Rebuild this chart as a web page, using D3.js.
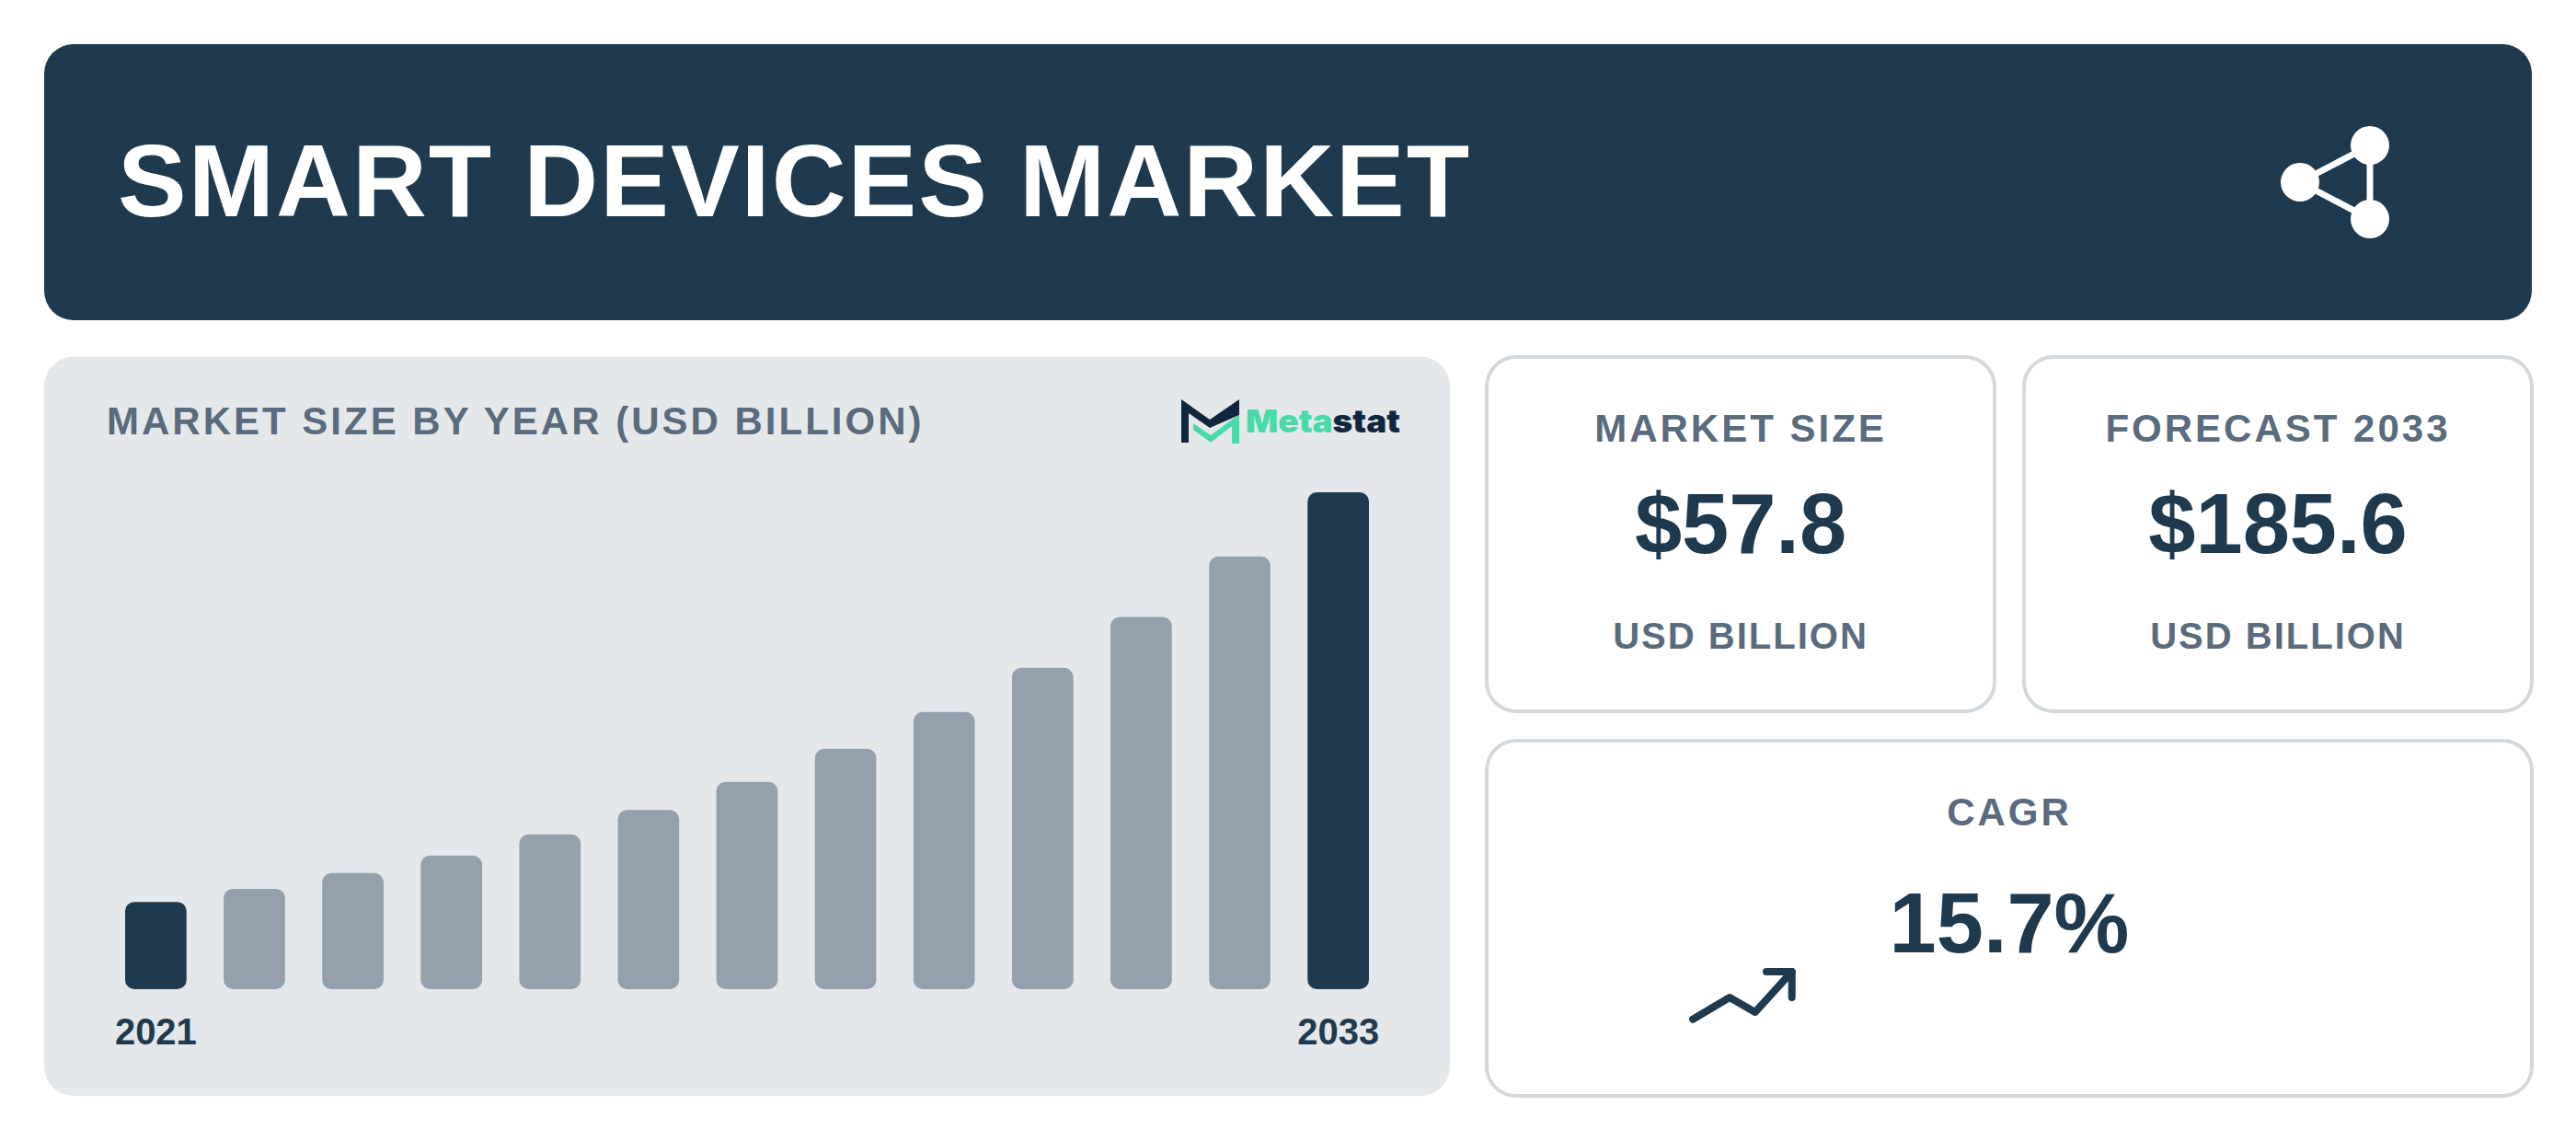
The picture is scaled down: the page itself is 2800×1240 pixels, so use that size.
<!DOCTYPE html>
<html><head><meta charset="utf-8">
<style>html,body{margin:0;padding:0;background:#fff}svg{display:block}text{font-family:"Liberation Sans",Arial,sans-serif}</style>
<script src="https://cdn.jsdelivr.net/npm/d3@7/dist/d3.min.js"></script>
</head><body><svg id="c" width="2800" height="1240"></svg>
<script>
const years=[2021,2022,2023,2024,2025,2026,2027,2028,2029,2030,2031,2032,2033];
const marketSize=[32.6,37.5,43.4,49.9,57.8,66.9,77.4,89.8,103.5,120.0,139.0,161.6,185.6];
const tickYears=[2021,2033];
const highlightYears=[2021,2033];
const titleText="SMART DEVICES MARKET";
const chartTitle="MARKET SIZE BY YEAR (USD BILLION)";
const cards=[
 {label:"MARKET SIZE",value:"$57.8",unit:"USD BILLION",cx:1892},
 {label:"FORECAST 2033",value:"$185.6",unit:"USD BILLION",cx:2476}];
const cagrLabel="CAGR",cagrValue="15.7%";
const navy="#1f3a4e",grey="#5a6b7d",barGrey="#94a1ac",panel="#e5e8eb",border="#d3d8dc",green="#47dba9",logoNavy="#10263f";

const svg=d3.select("#c");
svg.append("rect").attr("width",2800).attr("height",1240).attr("fill","#fff");
svg.append("rect").attr("x",48).attr("y",48).attr("width",2704).attr("height",300).attr("rx",32).attr("fill",navy);
svg.append("text").attr("x",128).attr("y",235).attr("font-size",112).attr("font-weight",700).attr("letter-spacing",2).attr("fill","#fff").text(titleText);
// share icon
const g=svg.append("g").attr("stroke","#fff").attr("stroke-width",7).attr("fill","#fff");
[[2500,198,2576,158],[2500,198,2576,238],[2576,158,2576,238]].forEach(l=>g.append("line").attr("x1",l[0]).attr("y1",l[1]).attr("x2",l[2]).attr("y2",l[3]));
[[2500,198],[2576,158],[2576,238]].forEach(p=>g.append("circle").attr("cx",p[0]).attr("cy",p[1]).attr("r",21).attr("stroke","none"));
// chart panel
svg.append("rect").attr("x",48).attr("y",387.5).attr("width",1528).attr("height",803.5).attr("rx",32).attr("fill",panel);
svg.append("text").attr("x",116).attr("y",472).attr("font-size",42).attr("font-weight",700).attr("letter-spacing",3).attr("fill",grey).text(chartTitle);
// logo
svg.append("path").attr("fill",logoNavy).attr("d","M1284 434L1315 456L1347 434V451L1315 465L1292 449V481H1284Z");
svg.append("path").attr("fill",green).attr("d","M1297 460L1316 473L1339 456L1347 451V482H1339V463L1316 481L1297 467Z");
const lt=svg.append("text").attr("x",1354).attr("y",470).attr("font-size",34).attr("font-weight",900).attr("style",'font-family:"Inter"').attr("textLength",168).attr("lengthAdjust","spacingAndGlyphs");
lt.append("tspan").attr("fill",green).text("Meta");
lt.append("tspan").attr("fill",logoNavy).text("stat");
// bars
const x=d3.scaleBand().domain(years).range([136,1488]).paddingInner(0.377).paddingOuter(0);
const y=d3.scaleLinear().domain([0,185.6]).range([1075,535]);
svg.append("g").selectAll("rect").data(years).join("rect")
 .attr("x",d=>x(d)).attr("width",x.bandwidth())
 .attr("y",(d,i)=>y(marketSize[i])).attr("height",(d,i)=>y(0)-y(marketSize[i]))
 .attr("rx",10).attr("fill",d=>highlightYears.includes(d)?navy:barGrey);
const ax=svg.append("g").attr("transform","translate(0,1075)").call(d3.axisBottom(x).tickValues(tickYears).tickSize(0).tickPadding(0));
ax.select(".domain").remove();
ax.selectAll("text").attr("style",'font-family:"Liberation Sans"').attr("font-size",40).attr("font-weight",700).attr("fill",navy).attr("dy",0).attr("y",60);
// cards
function card(x0,y0,w,h){svg.append("rect").attr("x",x0).attr("y",y0).attr("width",w).attr("height",h).attr("rx",32).attr("fill","#fff").attr("stroke",border).attr("stroke-width",4);}
function txt(cx,yy,size,ls,fill,s){svg.append("text").attr("x",cx).attr("y",yy).attr("text-anchor","middle").attr("font-size",size).attr("font-weight",700).attr("letter-spacing",ls).attr("fill",fill).text(s);}
card(1616,388,552,385);card(2200,388,552,385);card(1616,805,1136,386);
cards.forEach(c=>{txt(c.cx,480,42,3,grey,c.label);txt(c.cx,601,92,0,navy,c.value);txt(c.cx,705,40,2,grey,c.unit);});
txt(2184,897,42,3,grey,cagrLabel);txt(2184,1035,92,0,navy,cagrValue);
// trend arrow
const line=d3.line();
svg.append("path").attr("d",line([[1840,1107.7],[1880,1084],[1907.7,1100],[1947.7,1056]])).attr("fill","none").attr("stroke",navy).attr("stroke-width",8).attr("stroke-linecap","round").attr("stroke-linejoin","round");
svg.append("path").attr("d",line([[1920,1056],[1947.7,1056],[1947.7,1084]])).attr("fill","none").attr("stroke",navy).attr("stroke-width",8).attr("stroke-linecap","round").attr("stroke-linejoin","round");
</script></body></html>
